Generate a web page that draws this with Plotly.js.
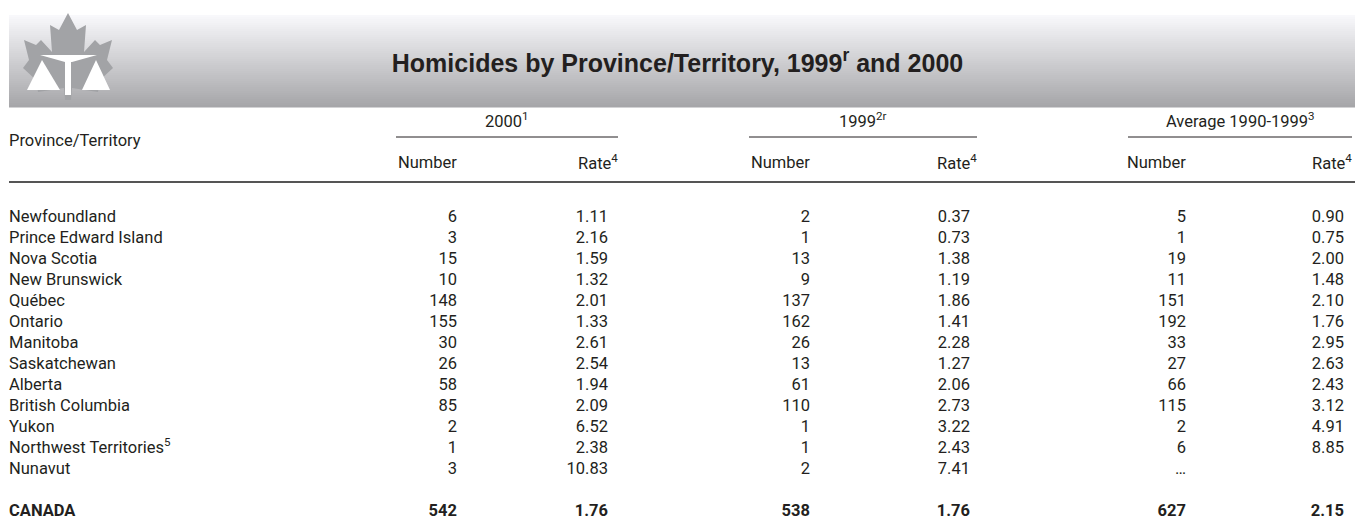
<!DOCTYPE html>
<html>
<head>
<meta charset="utf-8">
<script src="https://cdn.plot.ly/plotly-3.0.1.min.js"></script>
<style>
  html, body { margin: 0; padding: 0; background: #fff; }
  #homicideTable { width: 1355px; height: 529px; }
</style>
</head>
<body>
<div id="homicideTable"></div>
<script>
const provinces = ['Newfoundland', 'Prince Edward Island', 'Nova Scotia', 'New Brunswick', 'Québec',
  'Ontario', 'Manitoba', 'Saskatchewan', 'Alberta', 'British Columbia', 'Yukon',
  'Northwest Territories<sup>5</sup>', 'Nunavut'];
const number2000 = [6, 3, 15, 10, 148, 155, 30, 26, 58, 85, 2, 1, 3];
const rate2000 = [1.11, 2.16, 1.59, 1.32, 2.01, 1.33, 2.61, 2.54, 1.94, 2.09, 6.52, 2.38, 10.83];
const number1999 = [2, 1, 13, 9, 137, 162, 26, 13, 61, 110, 1, 1, 2];
const rate1999 = [0.37, 0.73, 1.38, 1.19, 1.86, 1.41, 2.28, 1.27, 2.06, 2.73, 3.22, 2.43, 7.41];
const numberAvg = [5, 1, 19, 11, 151, 192, 33, 27, 66, 115, 2, 6, null];
const rateAvg = [0.90, 0.75, 2.00, 1.48, 2.10, 1.76, 2.95, 2.63, 2.43, 3.12, 4.91, 8.85, null];

const totalLabel = 'CANADA';
const totals = [542, 1.76, 538, 1.76, 627, 2.15];

const groupHeaders = ['2000<sup>1</sup>', '1999<sup>2r</sup>', 'Average 1990-1999<sup>3</sup>'];
const subHeaders = ['Number', 'Rate<sup>4</sup>'];

const tableDiv = document.getElementById('homicideTable');

const FONT = 'Roboto, "Liberation Sans", sans-serif';
const FONT_SIZE = 16.5;
const TEXT_COLOR = '#231f20';

// right edge of each numeric column (px) and group extents
const colRight = [457, 608, 810, 970, 1186, 1344];
const groupSpan = [[396, 618], [749, 977], [1128, 1352]];
const totalRow = provinces.length + 1;

function fmtNumber(v) { return v === null ? '\u2026' : String(v); }
function fmtRate(v) { return v === null ? '' : v.toFixed(2); }

const columns = [
  number2000.map(fmtNumber), rate2000.map(fmtRate),
  number1999.map(fmtNumber), rate1999.map(fmtRate),
  numberAvg.map(fmtNumber), rateAvg.map(fmtRate)
];

const rowIdx = provinces.map((p, i) => i);
const data = [];

data.push({
  x: provinces.map(() => 9),
  y: rowIdx,
  text: provinces,
  mode: 'text',
  textposition: 'middle right',
  textfont: { family: FONT, size: FONT_SIZE, color: TEXT_COLOR },
  hoverinfo: 'skip',
  showlegend: false
});

for( let c = 0; c < columns.length; c++ ) {
  // skip empty cells (Nunavut has no 10-year average rate)
  const rows = rowIdx.filter(r => columns[c][r] !== '');
  data.push({
    x: rows.map(() => colRight[c]),
    y: rows,
    text: rows.map(r => columns[c][r]),
    mode: 'text',
    textposition: 'middle left',
    textfont: { family: FONT, size: FONT_SIZE, color: TEXT_COLOR },
    hoverinfo: 'skip',
    showlegend: false
  });
}

// CANADA totals row
data.push({
  x: [9],
  y: [totalRow],
  text: ['<b>' + totalLabel + '</b>'],
  mode: 'text',
  textposition: 'middle right',
  textfont: { family: FONT, size: FONT_SIZE, color: TEXT_COLOR },
  hoverinfo: 'skip',
  showlegend: false
});
data.push({
  x: colRight,
  y: colRight.map(() => totalRow),
  text: totals.map((v, i) => '<b>' + (i % 2 ? v.toFixed(2) : String(v)) + '</b>'),
  mode: 'text',
  textposition: 'middle left',
  textfont: { family: FONT, size: FONT_SIZE, color: TEXT_COLOR },
  hoverinfo: 'skip',
  showlegend: false
});

// maple leaf outline (px)
const leafPts = [[68,13],[77,30],[86,25],[84,52],[95,40],[100,45],[112,40],[107,60],[113,68],
  [100,80],[98,92],[72,88],[71,100],[65,100],[64,88],[38,92],[36,80],[23,68],[29,60],
  [24,40],[36,45],[41,40],[52,52],[50,25],[59,30]];
const leafPath = 'M' + leafPts.map(p => p.join(',')).join(' L') + ' Z';

// banner gradient is built from stacked bands
const shapes = [];
const bandTop = 15, bandBottom = 107, bands = 46;
for( let i = 0; i < bands; i++ ) {
  const t = i / (bands - 1);
  const g = Math.round(248 - t * (248 - 166));
  shapes.push({
    type: 'rect', xref: 'x', yref: 'y2', layer: 'below',
    x0: 9, x1: 1355,
    y0: bandTop + i * (bandBottom - bandTop) / bands,
    y1: bandTop + (i + 1) * (bandBottom - bandTop) / bands + 0.5,
    fillcolor: 'rgb(' + g + ',' + g + ',' + Math.min(255, g + 3) + ')',
    line: { width: 0 }
  });
}
shapes.push(
  { type: 'path', xref: 'x', yref: 'y2', path: leafPath, fillcolor: '#a2a3a6', line: { width: 0 } },
  // scale beam, post and pans
  { type: 'path', xref: 'x', yref: 'y2', path: 'M40,55 L97,55 L72,62 L65,62 Z', fillcolor: '#fff', line: { width: 0 } },
  { type: 'rect', xref: 'x', yref: 'y2', x0: 65, x1: 71, y0: 62, y1: 95, fillcolor: '#fff', line: { width: 0 } },
  { type: 'path', xref: 'x', yref: 'y2', path: 'M42,60 L27,90 L60,90 Z', fillcolor: '#fff', line: { width: 0 } },
  { type: 'path', xref: 'x', yref: 'y2', path: 'M96,60 L82,90 L110,90 Z', fillcolor: '#fff', line: { width: 0 } }
);

// rules under group headers and under column headers
groupSpan.forEach(g => {
  shapes.push({ type: 'line', xref: 'x', yref: 'y2', x0: g[0], x1: g[1], y0: 137, y1: 137,
    line: { color: '#231f20', width: 1 } });
});
shapes.push({ type: 'line', xref: 'x', yref: 'y2', x0: 9, x1: 1355, y0: 182, y1: 182,
  line: { color: '#555', width: 2 } });

const annotations = [];
function header(text, x, y, anchor) {
  annotations.push({ text: text, x: x, y: y, xref: 'x', yref: 'y2', xanchor: anchor, yanchor: 'middle',
    showarrow: false, borderpad: 0, borderwidth: 0,
    font: { family: FONT, size: FONT_SIZE, color: TEXT_COLOR } });
}
header('Province/Territory', 9, 140, 'left');
groupHeaders.forEach((h, i) => header(h, (groupSpan[i][0] + groupSpan[i][1]) / 2, 120, 'center'));
for( let g = 0; g < 3; g++ ) {
  header(subHeaders[0], colRight[2 * g], 162, 'right');
  header(subHeaders[1], groupSpan[g][1], 162, 'right');
}

const layout = {
  width: 1355,
  height: 529,
  margin: { l: 0, r: 0, t: 0, b: 0 },
  paper_bgcolor: '#fff',
  plot_bgcolor: 'rgba(0,0,0,0)',
  title: {
    text: 'Homicides by Province/Territory, 1999<sup>r</sup> and 2000',
    x: 0.5, xanchor: 'center', y: 1 - 63 / 529, yanchor: 'middle',
    font: { family: '"Liberation Sans", Arial, sans-serif', size: 25, color: TEXT_COLOR, weight: 'bold' }
  },
  xaxis: { range: [0, 1355], visible: false, fixedrange: true },
  // one row step is 21 px, first row centred at 217.5 px
  yaxis: { range: [(529 - 217.5) / 21, -217.5 / 21], visible: false, fixedrange: true },
  yaxis2: { range: [529, 0], overlaying: 'y', visible: false, fixedrange: true },
  shapes: shapes,
  annotations: annotations,
  showlegend: false
};

Plotly.newPlot(tableDiv, data, layout, { displayModeBar: false, staticPlot: true });
</script>
</body>
</html>
